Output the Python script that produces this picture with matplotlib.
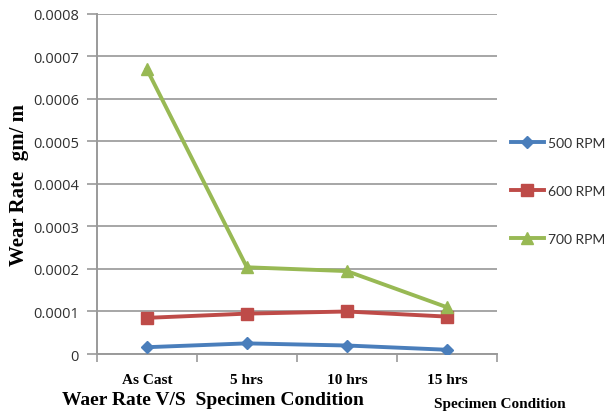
import matplotlib
matplotlib.use("Agg")
import matplotlib.pyplot as plt
import numpy as np

categories = ["As Cast", "5 hrs", "10 hrs", "15 hrs"]
rpm_500 = [0.000016, 0.000025, 0.000020, 0.000010]
rpm_600 = [0.000085, 0.000095, 0.000100, 0.000088]
rpm_700 = [0.000670, 0.000204, 0.000195, 0.000110]
series_labels = ["500 RPM", "600 RPM", "700 RPM"]
y_ticks = [0, 0.0001, 0.0002, 0.0003, 0.0004, 0.0005, 0.0006, 0.0007, 0.0008]
y_tick_labels = ["0", "0.0001", "0.0002", "0.0003", "0.0004", "0.0005", "0.0006", "0.0007", "0.0008"]

fig = plt.figure(figsize=(6.09, 4.14), dpi=100)
ax = fig.add_axes([0.159, 0.1425, 0.657, 0.8215])

x = np.arange(len(categories))
styles = [
    (rpm_500, "#4a7ebb", "D", 6.5),
    (rpm_600, "#be4b48", "s", 8),
    (rpm_700, "#98b954", "^", 8.5),
]
for (vals, color, marker, ms), label in zip(styles, series_labels):
    ax.plot(x, vals, color=color, lw=2.8, marker=marker, ms=ms,
            markeredgecolor=color, label=label, zorder=3)

ax.set_xlim(-0.5, 3.5)
ax.set_ylim(0, 0.0008)
ax.set_yticks(y_ticks)
ax.set_yticklabels(y_tick_labels, fontfamily="Open Sans", fontsize=10.5, color="#303030")
ax.set_xticks(x)
ax.set_xticklabels(categories, fontfamily="Liberation Serif", fontweight="bold", fontsize=11)
ax.set_xticks(np.arange(-0.5, 4, 1), minor=True)
ax.tick_params(axis="x", which="major", length=0, pad=14)
ax.tick_params(axis="x", which="minor", length=6, color="#9a9a9a", width=1.2)
ax.tick_params(axis="y", length=7, color="#9a9a9a", width=1.2, pad=6)

ax.grid(axis="y", color="#a6a6a6", lw=1.4, zorder=0)
for side in ["top", "right"]:
    ax.spines[side].set_visible(False)
ax.spines["left"].set_color("#9a9a9a")
ax.spines["left"].set_linewidth(1.4)
ax.spines["bottom"].set_color("#9a9a9a")
ax.spines["bottom"].set_linewidth(1.4)

ax.set_ylabel("Wear Rate  gm/ m", fontfamily="Liberation Serif", fontweight="bold",
              fontsize=15, labelpad=3)
fig.text(0.102, 0.032, "Waer Rate V/S  Specimen Condition", fontfamily="Liberation Serif",
         fontweight="bold", fontsize=14, ha="left", va="center")
fig.text(0.713, 0.024, "Specimen Condition", fontfamily="Liberation Serif",
         fontweight="bold", fontsize=11, ha="left", va="center")

leg = fig.legend(loc="upper left", bbox_to_anchor=(0.825, 0.688), frameon=False,
                 prop={"family": "Lato", "size": 10}, labelspacing=2.6,
                 handlelength=2.4, handletextpad=0.25, borderaxespad=0.2)
for t in leg.get_texts():
    t.set_color("#303030")

fig.savefig("out.png", dpi=100)
